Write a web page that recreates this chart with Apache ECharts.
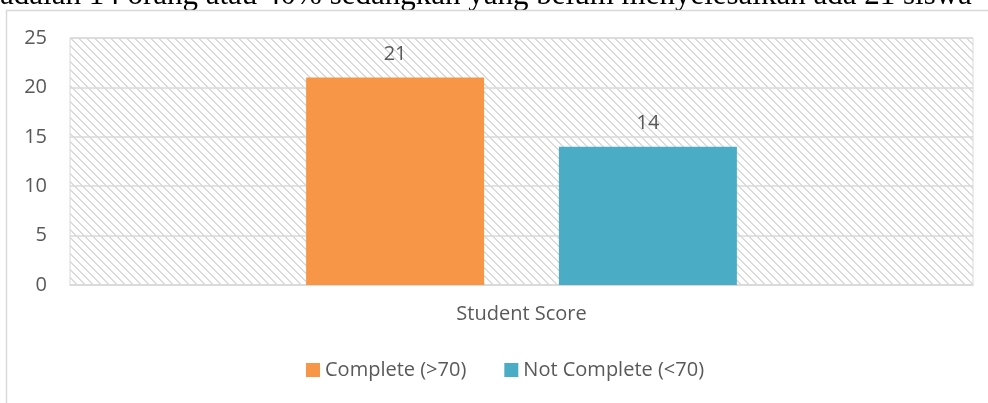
<!DOCTYPE html>
<html>
<head>
<meta charset="utf-8">
<script src="https://cdn.jsdelivr.net/npm/echarts@6/dist/echarts.min.js"></script>
<style>
  html, body { margin: 0; padding: 0; background: #fff; }
  #chart { width: 988px; height: 403px; }
</style>
</head>
<body>
<div id="chart"></div>
<script>
// data
const categories = ['Student Score']
const seriesNames = ['Complete (>70)', 'Not Complete (<70)']
const completeValues = [21]
const notCompleteValues = [14]
const yTicks = { min: 0, max: 25, interval: 5 }
const headText = 'adalah 14 orang atau 40% sedangkan yang belum menyelesaikan ada 21 siswa'

const textColor = '#595959'
const lineColor = '#d9d9d9'
const fontFamily = '"Open Sans", sans-serif'
const fontSize = 20

// light downward diagonal hatch for the plot area
function hatch() {
  const c = document.createElement('canvas')
  c.width = 8
  c.height = 8
  const ctx = c.getContext('2d')
  ctx.fillStyle = '#ffffff'
  ctx.fillRect(0, 0, 8, 8)
  ctx.fillStyle = '#dadada'
  for (let y = 0; y < 8; y++) {
    for (let x = 0; x < 8; x++) {
      const d = ((x - y) % 8 + 8) % 8
      if (d === 0 || d === 1) ctx.fillRect(x, y, 1, 1)
    }
  }
  return c
}

const chart = echarts.init(document.getElementById('chart'))

chart.setOption({
  animation: false,
  textStyle: { fontFamily },
  graphic: [
    {
      type: 'text',
      left: 0,
      top: -20,
      style: {
        text: headText,
        fontFamily: '"Liberation Serif", "Times New Roman", serif',
        fontSize: 31,
        fill: '#000'
      }
    },
    {
      type: 'rect',
      shape: { x: 6.5, y: 10.5, width: 1100, height: 600 },
      style: { fill: 'none', stroke: lineColor, lineWidth: 1.5 }
    }
  ],
  legend: {
    data: seriesNames,
    left: 301,
    top: 355,
    itemWidth: 14,
    itemHeight: 14,
    itemGap: 38,
    icon: 'rect',
    textStyle: { color: textColor, fontSize, fontFamily }
  },
  grid: {
    left: 70,
    right: 15,
    top: 38,
    bottom: 118,
    show: true,
    borderColor: lineColor,
    borderWidth: 1,
    backgroundColor: { image: hatch(), repeat: 'repeat' }
  },
  xAxis: {
    type: 'category',
    data: categories,
    axisLine: { lineStyle: { color: lineColor, width: 1.5 } },
    axisTick: { show: false },
    axisLabel: { color: textColor, fontSize, margin: 19, fontFamily }
  },
  yAxis: {
    type: 'value',
    min: yTicks.min,
    max: yTicks.max,
    interval: yTicks.interval,
    axisLine: { show: false },
    axisTick: { show: false },
    axisLabel: { color: textColor, fontSize, margin: 23, fontFamily },
    splitLine: { lineStyle: { color: lineColor, width: 1.5 } }
  },
  series: [
    {
      name: seriesNames[0],
      type: 'bar',
      data: completeValues,
      barWidth: 178,
      barGap: '42%',
      itemStyle: { color: '#F79646' },
      label: { show: true, position: 'top', distance: 13, color: textColor, fontSize, fontFamily }
    },
    {
      name: seriesNames[1],
      type: 'bar',
      data: notCompleteValues,
      barWidth: 178,
      barGap: '42%',
      itemStyle: { color: '#4BACC6' },
      label: { show: true, position: 'top', distance: 13, color: textColor, fontSize, fontFamily }
    }
  ]
})
</script>
</body>
</html>
